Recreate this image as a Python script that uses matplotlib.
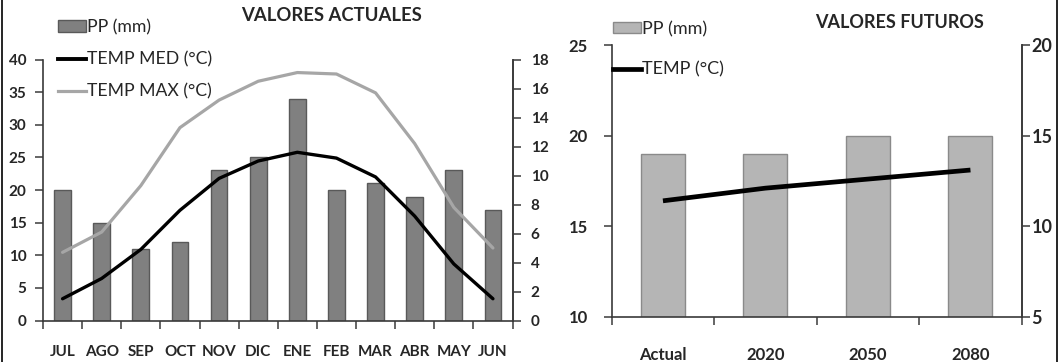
import matplotlib
matplotlib.use("Agg")
import matplotlib.pyplot as plt
from matplotlib.patches import Patch, Rectangle
from matplotlib.lines import Line2D
import numpy as np

# ---- data ----
months = ["JUL", "AGO", "SEP", "OCT", "NOV", "DIC", "ENE", "FEB", "MAR", "ABR", "MAY", "JUN"]
pp_actual = [20, 15, 11, 12, 23, 25, 34, 20, 21, 19, 23, 17]
temp_med = [1.5, 2.9, 4.9, 7.6, 9.8, 11.0, 11.6, 11.2, 9.9, 7.2, 3.9, 1.5]
temp_max = [4.7, 6.1, 9.3, 13.3, 15.2, 16.5, 17.1, 17.0, 15.7, 12.2, 7.8, 5.0]

periods = ["Actual", "2020", "2050", "2080"]
pp_future = [19, 19, 20, 20]
temp_future = [11.4, 12.1, 12.6, 13.1]

# all axis text is bold; the legends switch back to normal weight
plt.rcParams["font.family"] = ["Lato", "DejaVu Sans"]
plt.rcParams["font.weight"] = "bold"
TXT = "#262626"
SPINE = "#3a3a3a"

W, H = 1064, 362
fig = plt.figure(figsize=(W / 100, H / 100), dpi=100)


def px_rect(x0, y0, x1, y1):
    return [x0 / W, 1 - y1 / H, (x1 - x0) / W, (y1 - y0) / H]


def value_axis(ax, ticks, size, pad):
    ax.spines["top"].set_visible(False)
    for s in ("left", "right", "bottom"):
        ax.spines[s].set_color(SPINE)
        ax.spines[s].set_linewidth(1.2)
    ax.tick_params(axis="y", which="major", direction="out", length=6,
                   width=1.1, color=SPINE, pad=pad, labelsize=size,
                   labelcolor=TXT)
    ax.set_yticks(ticks, labels=[str(t) for t in ticks], fontweight="bold")


def category_ticks(ax, labels, size, pad):
    n = len(labels)
    ax.set_xlim(-0.5, n - 0.5)
    ax.set_xticks(np.arange(n), labels=labels, fontweight="bold",
                  fontsize=size, color=TXT)
    ax.tick_params(axis="x", which="major", length=0, pad=pad)
    ax.set_xticks(np.arange(n + 1) - 0.5, minor=True)
    ax.tick_params(axis="x", which="minor", direction="out", length=6,
                   width=1.1, color=SPINE)


# ---- current values ----
ax1 = fig.add_axes(px_rect(43, 59.5, 512.5, 320.5))
x = np.arange(len(months))
ax1.bar(x, pp_actual, width=0.43, color="#808080", edgecolor="#595959",
        linewidth=1.0, zorder=2)
ax1.set_ylim(0, 40)
category_ticks(ax1, months, size=11, pad=18)
value_axis(ax1, list(range(0, 41, 5)), size=11, pad=6)

ax2 = ax1.twinx()
ax2.plot(x, temp_max, color="#a6a6a6", linewidth=2.3, solid_capstyle="round",
         zorder=3)
ax2.plot(x, temp_med, color="black", linewidth=2.4, solid_capstyle="round",
         zorder=4)
ax2.set_ylim(0, 18)
ax2.spines["left"].set_visible(False)
ax2.spines["bottom"].set_visible(False)
value_axis(ax2, list(range(0, 19, 2)), size=11, pad=7)

fig.text(331 / W, 1 - 15.5 / H, "VALORES ACTUALES", ha="center", va="center",
         fontsize=13.3, fontweight="bold", color=TXT)

leg1 = fig.legend(
    handles=[Patch(facecolor="#808080", edgecolor="#595959"),
             Line2D([], [], color="black", linewidth=2.8),
             Line2D([], [], color="#a6a6a6", linewidth=2.3)],
    labels=["PP (mm)", "TEMP MED (°C)", "TEMP MAX (°C)"],
    loc="upper left", bbox_to_anchor=(58 / W, 1 - 19 / H), frameon=False,
    borderpad=0, borderaxespad=0, handlelength=1.6, handletextpad=0.05,
    handleheight=0.6, labelspacing=0.92,
    prop={"size": 12.7, "weight": "normal"})
for t in leg1.get_texts():
    t.set_color(TXT)

# ---- future values ----
ax3 = fig.add_axes(px_rect(611.7, 45, 1021.7, 316.8))
xf = np.arange(len(periods))
ax3.bar(xf, pp_future, width=0.43, color="#b5b5b5", edgecolor="#8a8a8a",
        linewidth=1.0, zorder=2)
ax3.set_ylim(10, 25)
category_ticks(ax3, periods, size=12, pad=22)
value_axis(ax3, list(range(10, 26, 5)), size=12, pad=11)

ax4 = ax3.twinx()
ax4.plot(xf, temp_future, color="black", linewidth=3.4, solid_capstyle="butt",
         zorder=4)
ax4.set_ylim(5, 20)
ax4.spines["left"].set_visible(False)
ax4.spines["bottom"].set_visible(False)
value_axis(ax4, list(range(5, 21, 5)), size=13, pad=1)

fig.text(900 / W, 1 - 23 / H, "VALORES FUTUROS", ha="center", va="center",
         fontsize=13, fontweight="bold", color=TXT)

leg2 = fig.legend(
    handles=[Patch(facecolor="#b5b5b5", edgecolor="#8a8a8a"),
             Line2D([], [], color="black", linewidth=3.4)],
    labels=["PP (mm)", "TEMP (°C)"],
    loc="upper left", bbox_to_anchor=(613 / W, 1 - 21 / H), frameon=False,
    borderpad=0, borderaxespad=0, handlelength=1.55, handletextpad=0.05,
    handleheight=0.6, labelspacing=1.35,
    prop={"size": 13, "weight": "normal"})
for t in leg2.get_texts():
    t.set_color(TXT)

# ---- outer frame: white margin past the right rule, and the two rules ----
fig.patches.append(Rectangle((1057.5 / W, 0), 1 - 1057.5 / W, 1,
                             transform=fig.transFigure, facecolor="white",
                             edgecolor="none", zorder=20))
fig.add_artist(Line2D([1.5 / W, 1.5 / W], [0, 1], color="black",
                      linewidth=1.2, transform=fig.transFigure, zorder=21))
fig.add_artist(Line2D([1057 / W, 1057 / W], [0, 1], color="black",
                      linewidth=1.2, transform=fig.transFigure, zorder=21))

fig.savefig("out.png", dpi=100)
